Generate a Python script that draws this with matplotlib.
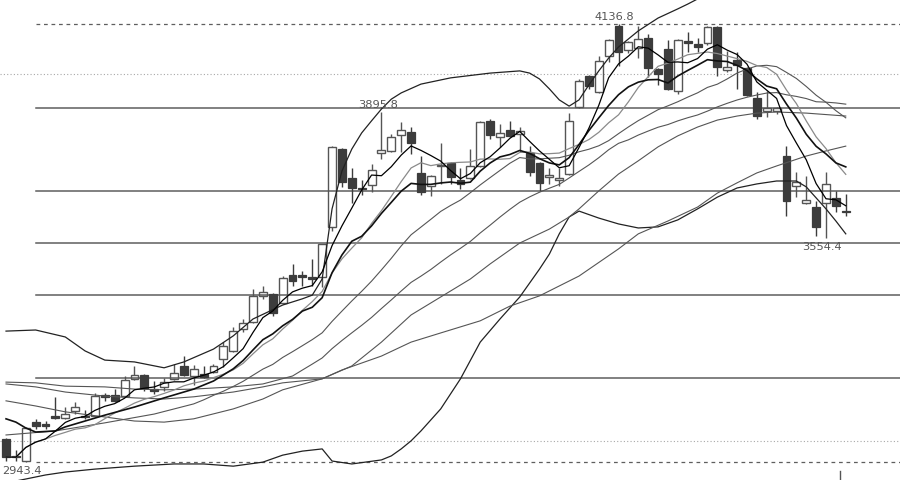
import matplotlib
matplotlib.use("Agg")
import matplotlib.pyplot as plt
import numpy as np
import pandas as pd

# ---------------- data ----------------
opens = [3006, 2960, 2947, 3052, 3047, 3068, 3063, 3082, 3070, 3070,
         3126, 3126, 3123, 3169, 3180, 3142, 3148, 3169, 3205, 3178,
         3183, 3188, 3224, 3246, 3306, 3325, 3396, 3401, 3377, 3453,
         3453, 3447, 3447, 3584, 3796, 3717, 3690, 3699, 3785, 3791,
         3834, 3843, 3731, 3695, 3751, 3758, 3712, 3717, 3750, 3873,
         3829, 3848, 3837, 3785, 3758, 3720, 3712, 3728, 3911, 3995,
         3952, 4050, 4131, 4066, 4072, 4099, 4014, 4069, 3954, 4091,
         4082, 4085, 4129, 4011, 4039, 4017, 3935, 3900, 3900, 3777,
         3695, 3649, 3638, 3649, 3663, 3627]
highs = [3010, 2976, 3038, 3060, 3055, 3120, 3093, 3107, 3085, 3131,
         3131, 3142, 3178, 3205, 3182, 3164, 3172, 3210, 3232, 3208,
         3205, 3210, 3270, 3311, 3333, 3415, 3423, 3404, 3450, 3483,
         3464, 3497, 3538, 3804, 3798, 3745, 3712, 3754, 3895.8, 3837,
         3870, 3856, 3777, 3725, 3812, 3760, 3745, 3796, 3872, 3878,
         3864, 3873, 3856, 3804, 3760, 3745, 3745, 3894, 3987, 3998,
         4050, 4095, 4136.8, 4090, 4131, 4110, 4016, 4093, 4095, 4115,
         4099, 4131, 4131, 4063, 4061, 4019, 3952, 3954, 3910, 3804,
         3734, 3723, 3655, 3734, 3682, 3674]
lows = [2946, 2946, 2943.4, 3033, 3033, 3060, 3060, 3074, 3060, 3068,
        3110, 3107, 3120, 3167, 3137, 3129, 3137, 3167, 3178, 3153,
        3172, 3186, 3202, 3243, 3298, 3322, 3388, 3341, 3374, 3423,
        3423, 3423, 3420, 3573, 3693, 3649, 3671, 3679, 3769, 3789,
        3788, 3783, 3671, 3668, 3701, 3701, 3687, 3715, 3748, 3823,
        3802, 3830, 3788, 3723, 3682, 3701, 3695, 3726, 3908, 3960,
        3950, 4033, 4022, 4058, 4044, 3992, 3971, 3958, 3946, 4061,
        4061, 4080, 3995, 4006, 3960, 3940, 3878, 3883, 3892, 3614,
        3665, 3646, 3559, 3554.4, 3625, 3614]
closes = [2957, 2956, 3036, 3041, 3041, 3064, 3074, 3093, 3066, 3123,
          3120, 3110, 3167, 3180, 3145, 3137, 3161, 3186, 3180, 3197,
          3175, 3205, 3259, 3300, 3322, 3396, 3407, 3349, 3445, 3437,
          3447, 3442, 3536, 3802, 3706, 3690, 3688, 3740, 3793, 3829,
          3848, 3813, 3679, 3723, 3753, 3720, 3701, 3750, 3870, 3834,
          3840, 3832, 3845, 3734, 3704, 3725, 3717, 3873, 3982, 3968,
          4036, 4093, 4061, 4088, 4096, 4017, 4001, 3960, 4093, 4085,
          4074, 4129, 4020, 4020, 4025, 3943, 3886, 3908, 3908, 3655,
          3706, 3657, 3584, 3701, 3641, 3625]

# Bollinger-type upper / lower band
upper_idx = [0, 3, 6, 8, 10, 13, 16, 18, 21, 23, 25, 28, 30, 31, 32, 33, 34, 35, 36, 37,
             38, 39, 40, 42, 45, 49, 52, 53, 54, 55, 56, 57, 58, 59, 60, 61, 62, 63, 64, 66,
             68, 69, 70]
upper_val = [3300, 3303, 3284, 3246, 3221, 3216, 3200, 3216, 3251, 3287, 3333, 3371, 3388, 3398,
             3442, 3633, 3736, 3796, 3840, 3873, 3905, 3932, 3949, 3973, 3990, 4003, 4009, 4003,
             3987, 3960, 3930, 3913, 3930, 3971, 4009, 4044, 4074, 4096, 4118, 4153, 4178, 4191,
             4205]
lower_idx = [0, 2, 4, 6, 9, 13, 17, 20, 23, 26, 28, 30, 32, 33, 35, 38, 39, 40, 41, 42,
             44, 46, 48, 50, 52, 54, 55, 56, 57, 58, 60, 62, 64, 66, 68, 70, 72, 74, 76, 78,
             80, 81, 82, 83, 84, 85]
lower_val = [2886, 2897, 2908, 2916, 2924, 2932, 2938, 2938, 2932, 2943, 2962, 2973, 2979, 2946,
             2938, 2949, 2960, 2979, 3001, 3028, 3088, 3170, 3270, 3333, 3393, 3469, 3510, 3565,
             3611, 3627, 3608, 3592, 3581, 3584, 3603, 3633, 3665, 3690, 3701, 3709, 3709, 3693,
             3663, 3633, 3600, 3565]

# leading parts of the averages (before enough bars are on screen)
ma20_early_idx = [0, 5, 10, 15]
ma20_early_val = [3017, 3028, 3050, 3074]
ma30_early_idx = [0, 3, 6, 10, 13, 16, 19, 23, 26]
ma30_early_val = [3161, 3159, 3150, 3148, 3142, 3140, 3142, 3148, 3156]
bbi_early_idx = [0, 1, 2, 3, 5, 6, 10, 13, 16, 19, 21]
bbi_early_val = [3061, 3052, 3036, 3025, 3028, 3039, 3071, 3093, 3118, 3142, 3164]

# two long averages
long1_idx = [0, 3, 6, 10, 13, 16, 19, 23, 26, 28, 32, 35, 38, 41, 44, 47, 49, 52, 55, 57,
             58, 60, 62, 64, 66, 68, 70, 72, 74, 76, 78, 81, 85]
long1_val = [3156, 3148, 3134, 3123, 3118, 3115, 3121, 3134, 3148, 3159, 3170, 3205, 3270, 3344,
             3393, 3442, 3483, 3540, 3578, 3611, 3633, 3682, 3728, 3764, 3802, 3832, 3856, 3875,
             3886, 3894, 3897, 3894, 3886]
long2_idx = [0, 3, 6, 10, 13, 16, 19, 23, 26, 28, 32, 34, 38, 41, 44, 48, 51, 54, 58, 62,
             64, 67, 70, 72, 74, 76, 78, 81, 83, 85]
long2_val = [3110, 3096, 3080, 3066, 3055, 3052, 3061, 3088, 3115, 3140, 3170, 3194, 3232, 3270,
             3295, 3328, 3368, 3396, 3450, 3524, 3565, 3600, 3638, 3676, 3704, 3731, 3750, 3777,
             3791, 3804]

fib_ratios = [0.191, 0.382, 0.5, 0.618, 0.809]
round_levels = [3000, 4000]
period_low, period_high = 2943.4, 4136.8
labels = [(62, 4136.8, "4136.8", "top"), (38, 3895.8, "3895.8", "top"),
          (83, 3554.4, "3554.4", "bottom"), (2, 2943.4, "2943.4", "bottom")]
cursor_idx = 84.4

# ---------------- figure ----------------
fig = plt.figure(figsize=(9.0, 4.81), dpi=100)
ax = fig.add_axes([0, 0, 1, 1])
ax.set_xlim(-0.61, 90.49)
ax.set_ylim(2894.3, 4204.9)
ax.axis("off")

n = len(closes)
x = np.arange(n)
o = np.array(opens, float); h = np.array(highs, float)
l = np.array(lows, float); c = np.array(closes, float)

# reference lines
for lv in round_levels:
    ax.axhline(lv, color="#a8a8a8", lw=0.8, ls=(0, (1, 2)), zorder=1)
rng = period_high - period_low
for r in fib_ratios:
    ax.axhline(period_low + r * rng, xmin=0.04, color="#5e5e5e", lw=1.1, zorder=1)
for lv in (period_low, period_high):
    ax.axhline(lv, xmin=0.04, color="#5e5e5e", lw=0.9, ls=(0, (3, 3)), zorder=1)

# candles
w = 0.8
up = c >= o
dn = ~up
col_up = "#555555"
col_dn = "#3c3c3c"
top = np.maximum(o, c); bot = np.minimum(o, c)
ax.vlines(x[up], top[up], h[up], color=col_up, lw=1.0, zorder=2)
ax.vlines(x[up], l[up], bot[up], color=col_up, lw=1.0, zorder=2)
ax.vlines(x[dn], l[dn], h[dn], color=col_dn, lw=1.0, zorder=2)
ax.bar(x[up], (c - o)[up], bottom=o[up], width=w, facecolor="none",
       edgecolor=col_up, lw=1.0, zorder=2)
ax.bar(x[dn], (o - c)[dn], bottom=c[dn], width=w, facecolor=col_dn,
       edgecolor=col_dn, lw=0.9, zorder=2)

# averages
s = pd.Series(c)
ma5 = s.rolling(5, min_periods=1).mean()
ma10 = s.rolling(10, min_periods=1).mean()
ma20 = s.rolling(20).mean()
ma30 = s.rolling(30).mean()
bbi = (s.rolling(3).mean() + s.rolling(6).mean() + s.rolling(12).mean() + s.rolling(24).mean()) / 4

def joined(e_idx, e_val, series, start):
    xs = list(e_idx) + list(range(start, n))
    ys = list(e_val) + list(series.values[start:])
    return xs, ys

lw_long = 0.8
ax.plot(upper_idx, upper_val, color="#222222", lw=0.9, zorder=3)
ax.plot(lower_idx, lower_val, color="#222222", lw=0.9, zorder=3)
ax.plot(long2_idx, long2_val, color="#555555", lw=lw_long, zorder=3)
ax.plot(long1_idx, long1_val, color="#555555", lw=lw_long, zorder=3)
ax.plot(*joined(ma30_early_idx, ma30_early_val, ma30, 29), color="#555555", lw=lw_long, zorder=3)
ax.plot(*joined(ma20_early_idx, ma20_early_val, ma20, 19), color="#555555", lw=lw_long, zorder=3)
ax.plot(x, ma10, color="#8a8a8a", lw=0.9, zorder=3)
ax.plot(*joined(bbi_early_idx, bbi_early_val, bbi, 23), color="#111111", lw=1.2, zorder=4)
ax.plot(x, ma5, color="#000000", lw=0.9, zorder=4)

# extreme labels
for xi, val, txt, side in labels:
    if side == "top":
        ax.annotate(txt, xy=(xi, val), xytext=(-2.7, 2.5), textcoords="offset points",
                    ha="center", va="bottom", fontsize=8.2, color="#555555", zorder=5)
    else:
        ax.annotate(txt, xy=(xi, val), xytext=(-2.9, -2.5), textcoords="offset points",
                    ha="center", va="top", fontsize=8.2, color="#555555", zorder=5)

ax.axvline(cursor_idx, ymin=0, ymax=9 / 481, color="#555555", lw=1.0)

fig.savefig("out.png", dpi=100, facecolor="white")
